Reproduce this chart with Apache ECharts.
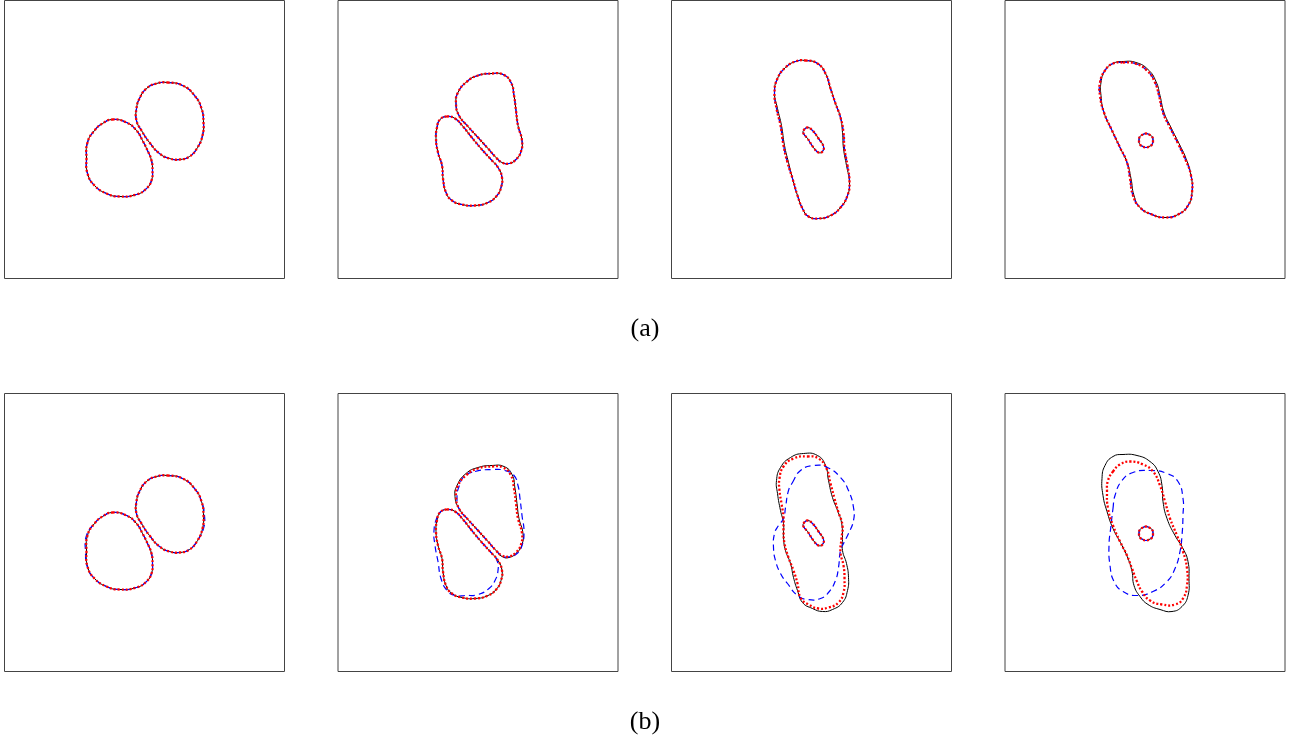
<!DOCTYPE html>
<html>
<head>
<meta charset="utf-8">
<script src="https://cdn.jsdelivr.net/npm/echarts@6/dist/echarts.min.js"></script>
<style>
  html, body { margin: 0; padding: 0; background: #fff; }
  #chart { width: 1290px; height: 735px; }
</style>
</head>
<body>
<div id="chart"></div>
<script>
// Contour outlines, in panel coordinates (x to the right, y downwards, 280 x 278 box).

// Column 1: two rounded blobs (same in both rows)
const p1Lower = [[108,119],[122,122],[132,130],[138,140],[143,150],[147,160],[148,170],[147,180],[142,188],[132,194],[115,196],[102,193],[90,185],[83,173],[82,158],[83,142],[90,130],[98,123]];
const p1Upper = [[163,82],[178,85],[190,95],[197,108],[199,122],[198,135],[193,147],[185,156],[175,159],[165,158],[155,153],[145,142],[137,130],[132,120],[132,108],[135,98],[142,88],[152,83]];
const b1BlueLower = [[108,119],[122,122],[132,130],[138,140],[143,150],[147,160],[148,170],[147,180],[142,188],[132,194],[115,196],[102,193],[90,185],[83,174],[81,158],[82,142],[90,130],[98,123]];
const b1BlueUpper = [[163,82],[178,85],[190,95],[197,108],[200,122],[199,135],[193,147],[185,156],[175,159],[165,158],[155,153],[145,142],[137,130],[132,120],[132,108],[135,98],[142,88],[152,83]];

// Column 2: two kidney shapes
const p2Lower = [[109,116],[117,118],[125,126],[133,136],[143,148],[153,159],[160,167],[164,177],[163,187],[159,195],[150,202],[137,205],[124,204],[114,200],[108,192],[105,178],[104,165],[100,152],[98,138],[99,127],[102,119]];
const p2Upper = [[154,73],[165,74],[173,82],[176,95],[178,110],[180,125],[184,140],[183,151],[178,159],[171,163],[164,162],[158,157],[150,148],[140,137],[130,126],[121,115],[118,103],[120,92],[129,81],[140,75]];
const b2BlackUpper = [[154,72],[166,73],[174,81],[177,95],[179,110],[181,125],[185,140],[184,151],[179,159],[171,164],[164,163],[158,157],[150,148],[140,137],[130,126],[121,115],[117,103],[119,92],[128,80],[140,74]];
const b2BlueUpper = [[137,78],[154,76],[167,77],[176,82],[180,92],[182,105],[184,122],[186,138],[184,152],[179,160],[172,163],[165,163],[158,157],[150,148],[140,137],[130,126],[121,115],[119,103],[121,93],[126,83]];
const b2BlueLower = [[109,116],[117,118],[125,126],[133,136],[143,148],[153,159],[159,167],[160,177],[157,187],[151,195],[140,201],[127,202],[117,202],[109,197],[103,185],[100,168],[97,152],[96,137],[99,124],[103,118]];

// Column 3: elongated outer contour with a small inner loop
const a3Outer = [[134,60],[146,63],[154,73],[159,88],[164,103],[169,117],[172,132],[173,148],[176,165],[178,182],[176,195],[169,207],[159,215],[147,218],[137,216],[131,208],[126,195],[121,178],[116,162],[112,145],[109,125],[105,108],[103,92],[106,78],[114,67],[124,61]];
const a3BlackOuter = [[134,60],[146,63],[154,73],[159,88],[164,103],[169,117],[171,132],[172,148],[175,165],[178,182],[176,195],[169,207],[159,215],[147,218],[137,216],[131,208],[126,195],[121,178],[117,162],[113,145],[110,125],[106,108],[103,92],[106,78],[114,67],[124,61]];
const p3Inner = [[132,130],[136,127],[141,130],[147,138],[152,146],[151,151],[147,152],[142,147],[136,138],[132,133]];
const b3Black = [[132,60],[146,62],[154,72],[157,87],[161,104],[166,117],[170,129],[171,144],[171,157],[175,170],[177,184],[176,197],[171,209],[161,216],[151,218],[141,215],[131,209],[126,197],[122,184],[119,170],[114,157],[112,144],[112,130],[109,117],[106,100],[105,87],[109,74],[119,64]];
const b3Red = [[136,63],[147,65],[155,75],[159,90],[163,105],[167,119],[171,132],[170,145],[169,159],[172,172],[173,185],[172,199],[167,209],[157,214],[147,215],[137,211],[129,204],[126,190],[122,177],[117,164],[113,150],[112,137],[112,124],[110,110],[108,97],[108,85],[112,73],[122,65]];
const b3Blue = [[121,89],[129,77],[142,72],[156,74],[169,84],[177,97],[182,114],[182,127],[177,140],[172,150],[169,157],[167,174],[164,187],[157,199],[149,205],[136,206],[126,202],[116,190],[109,180],[104,167],[102,154],[103,140],[107,132],[112,125],[114,114],[117,97]];

// Column 4: peanut-shaped outer contour with a small circle
const a4Outer = [[118,62],[130,63],[142,70],[150,82],[154,95],[158,112],[165,127],[173,143],[180,158],[186,175],[187,192],[183,205],[173,214],[160,217],[147,214],[135,207],[128,195],[125,178],[122,162],[115,147],[107,130],[99,112],[95,95],[95,82],[100,70],[108,63]];
const a4BlackOuter = [[118,61],[131,62],[143,69],[151,81],[155,95],[159,112],[166,127],[174,143],[181,158],[186,175],[187,192],[183,205],[173,214],[160,217],[147,214],[135,207],[129,195],[126,178],[122,162],[115,147],[107,130],[99,112],[96,95],[96,82],[100,70],[108,63]];
const p4Circle = [[148,140],[147,144],[144,146],[141,147],[138,146],[135,144],[134,140],[135,136],[138,134],[141,133],[144,134],[147,136]];
const b4Black = [[118,61],[132,62],[145,68],[153,78],[157,92],[158,108],[162,125],[170,142],[178,155],[183,168],[184,185],[183,202],[177,213],[167,218],[155,216],[143,211],[135,203],[129,192],[127,178],[123,165],[117,152],[108,135],[102,118],[98,102],[97,85],[100,72],[108,63]];
const b4Red = [[108,78],[115,71],[125,68],[138,71],[148,78],[155,92],[160,108],[165,125],[172,142],[178,158],[182,175],[182,192],[178,205],[170,211],[157,211],[145,207],[137,198],[132,188],[127,175],[122,162],[115,148],[108,132],[103,115],[102,98],[103,87]];
const b4Blue = [[108,115],[110,102],[117,87],[128,79],[145,77],[162,80],[173,88],[178,105],[178,122],[177,142],[175,158],[170,175],[162,188],[148,198],[132,202],[118,198],[109,188],[105,172],[104,152],[106,132]];

const rowLabels = ['(a)', '(b)'];

// Which outlines go in which panel: black, blue and red lists of closed loops
const panels = [
  { black: [p1Lower, p1Upper], blue: [p1Lower, p1Upper], red: [p1Lower, p1Upper] },
  { black: [p2Lower, p2Upper], blue: [p2Lower, p2Upper], red: [p2Lower, p2Upper] },
  { black: [a3BlackOuter, p3Inner], blue: [a3Outer, p3Inner], red: [a3Outer, p3Inner] },
  { black: [a4BlackOuter, p4Circle], blue: [a4Outer, p4Circle], red: [a4Outer, p4Circle] },
  { black: [p1Lower, p1Upper], blue: [b1BlueLower, b1BlueUpper], red: [p1Lower, p1Upper] },
  { black: [p2Lower, b2BlackUpper], blue: [b2BlueLower, b2BlueUpper], red: [p2Lower, p2Upper] },
  { black: [b3Black, p3Inner], blue: [b3Blue, p3Inner], red: [b3Red, p3Inner] },
  { black: [b4Black, p4Circle], blue: [b4Blue, p4Circle], red: [b4Red, p4Circle] }
];

const panelLeft = [4.5, 338, 671.5, 1005];
const panelTop = [0.5, 393.5];
const panelW = 280, panelH = 278;

const styles = {
  black: { stroke: '#000000', lineWidth: 1, lineDash: null },
  blue:  { stroke: '#0000ff', lineWidth: 1.2, lineDash: [6, 4] },
  red:   { stroke: '#ff0000', lineWidth: 2.3, lineDash: [2, 2] }
};

// Each loop is one custom series; its points go through the panel's axes
// and are drawn as a smooth closed outline.
function loopSeries(loop, gridIdx, style) {
  return {
    type: 'custom',
    xAxisIndex: gridIdx, yAxisIndex: gridIdx,
    data: loop,
    encode: { x: 0, y: 1 },
    silent: true,
    animation: false,
    clip: false,
    renderItem: (params, api) => {
      if (params.dataIndex !== 0) return null;
      const pts = loop.map(p => api.coord(p));
      return {
        type: 'polygon',
        shape: { points: pts, smooth: 0.5 },
        style: {
          fill: null,
          stroke: style.stroke,
          lineWidth: style.lineWidth,
          lineDash: style.lineDash
        }
      };
    }
  };
}

const grids = [], xAxes = [], yAxes = [], series = [];
panels.forEach((p, i) => {
  const col = i % 4, row = Math.floor(i / 4);
  grids.push({
    left: panelLeft[col], top: panelTop[row], width: panelW, height: panelH,
    show: true, borderColor: '#444', borderWidth: 1, backgroundColor: 'transparent'
  });
  xAxes.push({ type: 'value', gridIndex: i, min: 0, max: panelW, show: false });
  yAxes.push({ type: 'value', gridIndex: i, min: 0, max: panelH, inverse: true, show: false });
  ['black', 'blue', 'red'].forEach(key => {
    p[key].forEach(loop => series.push(loopSeries(loop, i, styles[key])));
  });
});

const chart = echarts.init(document.getElementById('chart'), null, { renderer: 'canvas' });
chart.setOption({
  animation: false,
  backgroundColor: '#ffffff',
  title: rowLabels.map((t, r) => ({
    text: t,
    left: 'center',
    top: r === 0 ? 311 : 704,
    textStyle: { fontFamily: 'Liberation Serif', fontSize: 26, fontWeight: 'normal', color: '#000' }
  })),
  grid: grids,
  xAxis: xAxes,
  yAxis: yAxes,
  series: series
});
</script>
</body>
</html>
